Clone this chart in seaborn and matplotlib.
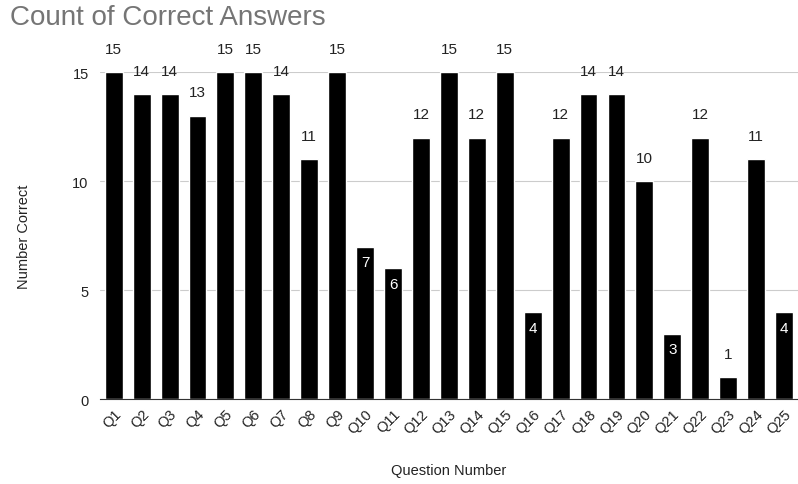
import matplotlib.pyplot as plt
import seaborn as sns
import pandas as pd

questions = [f"Q{i}" for i in range(1, 26)]
correct = [15, 14, 14, 13, 15, 15, 14, 11, 15, 7, 6, 12, 15, 12, 15,
           4, 12, 14, 14, 10, 3, 12, 1, 11, 4]
# labels drawn inside the bar (white) instead of above
inside = ["Q10", "Q11", "Q16", "Q21", "Q25"]

df = pd.DataFrame({"Question Number": questions, "Number Correct": correct})

sns.set_style("white")
plt.rcParams['font.family'] = ['Liberation Sans', 'DejaVu Sans']

fig = plt.figure(figsize=(7.98, 4.85), dpi=100)
ax = fig.add_axes([0.125, 0.175, 0.875, 0.674])

sns.barplot(data=df, x="Question Number", y="Number Correct", color="black",
            width=0.64, saturation=1, ax=ax)

ax.set_xlim(-0.5, 24.5)
ax.set_ylim(0, 15)
ax.set_yticks([0, 5, 10, 15])
ax.yaxis.grid(True, color="#cccccc", linewidth=0.8)
ax.set_axisbelow(True)
for s in ["top", "right", "left"]:
    ax.spines[s].set_visible(False)
ax.spines["bottom"].set_color("#333333")
ax.tick_params(axis="y", length=0, labelsize=10.5, colors="#222222", pad=8)
ax.tick_params(axis="x", length=0, labelsize=10.5, colors="#222222", pad=5)
plt.setp(ax.get_xticklabels(), rotation=45, ha="right", va="top",
         rotation_mode="anchor")

for i, (q, v) in enumerate(zip(questions, correct)):
    if q in inside:
        ax.text(i, v - 0.4, str(v), ha="center", va="top", color="white",
                fontsize=11)
    else:
        ax.text(i, v + 0.75, str(v), ha="center", va="bottom", color="#222222",
                fontsize=11, clip_on=False)

ax.set_xlabel("Question Number", fontsize=10.5, color="#222222", labelpad=20)
ax.set_ylabel("Number Correct", fontsize=10.5, color="#222222", labelpad=30)
fig.text(0.012, 0.99, "Count of Correct Answers", fontsize=20,
         color="#757575", ha="left", va="top")

plt.savefig("out.png", dpi=100)
plt.close()
